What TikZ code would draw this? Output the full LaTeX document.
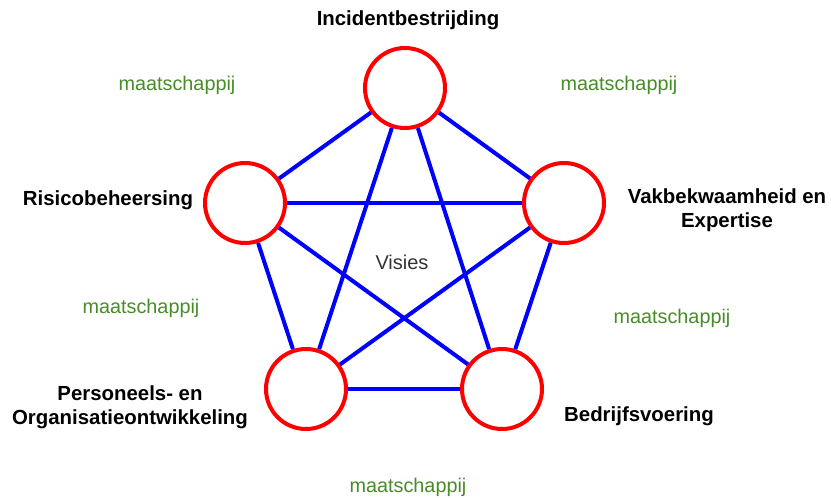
\documentclass[tikz,border=0pt]{standalone}
\usepackage{fontspec}
\setmainfont{Liberation Sans}
\usetikzlibrary{positioning}
\definecolor{maatgreen}{RGB}{70,140,40}
\tikzset{
    mynode/.style = {circle, line width=4pt, draw=red, fill=white, minimum size=80pt, inner sep=0pt},
    edgen/.style = {line width=4pt, blue},
    topic/.style = {align=center, font=\fontsize{20.4}{24}\selectfont\bfseries},
    maat/.style = {text=maatgreen, font=\fontsize{19.8}{23}\selectfont},
    centre/.style = {text=black!80, font=\fontsize{20}{23}\selectfont}
}
\begin{document}
\begin{tikzpicture}[x=1pt,y=-1pt]
  \useasboundingbox (0,0) rectangle (831,498);

  \node[mynode] (inc) at (405,88) {};
  \node[mynode] (ris) at (245,203) {};
  \node[mynode] (vak) at (564,203) {};
  \node[mynode] (per) at (306,389) {};
  \node[mynode] (bed) at (502,389) {};

  \foreach \a/\b in {inc/ris, inc/vak, inc/per, inc/bed, ris/vak,
                     ris/per, ris/bed, vak/per, vak/bed, per/bed}
    \draw[edgen] (\a) -- (\b);

  \node[topic] (incl) at (408,20) {Incidentbestrijding};
  \node[topic] (risl) at (108,200) {Risicobeheersing};
  \node[topic] (vakl) at (727,210) {Vakbekwaamheid en\\Expertise};
  \node[topic] (perl) at (130,407) {Personeels- en\\Organisatieontwikkeling};
  \node[topic] (bedl) at (639,416) {Bedrijfsvoering};
  \node[centre] (vis) at (402,262) {Visies};

  \node[maat] (m1) at (177,85) {maatschappij};
  \node[maat] (m2) at (619,85) {maatschappij};
  \node[maat] (m3) at (141,308) {maatschappij};
  \node[maat] (m4) at (672,318) {maatschappij};
  \node[maat] (m5) at (408,487) {maatschappij};
\end{tikzpicture}
\end{document}
